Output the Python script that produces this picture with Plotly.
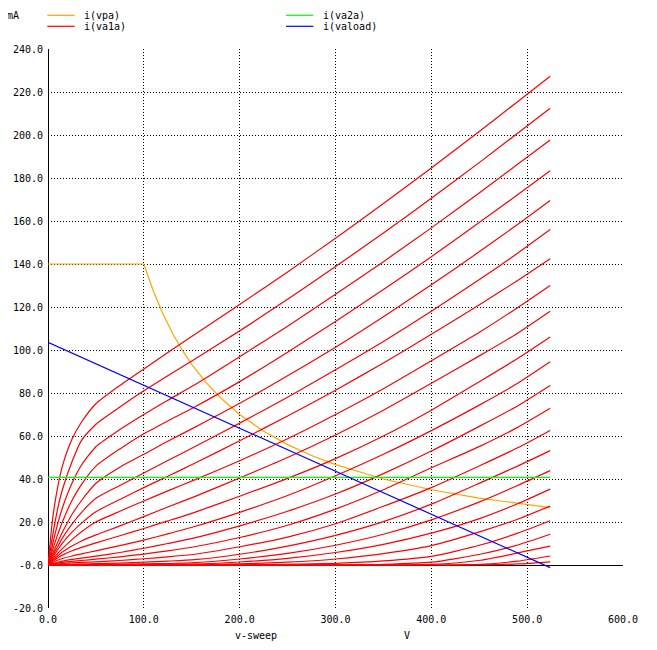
import plotly.graph_objects as go

# ---------------- data ----------------
V_SWEEP = [0, 5, 10, 15, 25, 35, 50, 75, 100, 125, 153, 200, 250, 300, 350, 400, 451, 490, 524]

# i(va1a): plate-current family, mA, one list per grid step (top to bottom)
IA1_0 = [0, 22, 36, 46, 58.5, 66.5, 75, 83.5, 91.2, 98.8, 107.2, 121.2, 136.3, 152, 168.1, 184.7, 202, 215.5, 227.3]
IA1_1 = [0, 14, 26, 35, 48, 58, 65.5, 73.5, 81, 88, 95.7, 108.9, 123.6, 138.8, 154.4, 170.6, 187.5, 200.8, 212.4]
IA1_2 = [0, 10, 19, 26.5, 38, 46.5, 55, 63, 70, 76.6, 83.8, 96.9, 111.1, 125.9, 141.1, 156.8, 173.4, 186.4, 197.7]
IA1_3 = [0, 7.3, 14, 20, 30, 37.5, 46, 54, 61, 67, 73.5, 85.3, 99, 113.3, 128.1, 143.4, 159.6, 172.2, 183.4]
IA1_4 = [0, 5.5, 10.5, 15.2, 23.5, 30, 38, 45.5, 51.5, 57.6, 64, 75.2, 88, 101.3, 115.5, 130.3, 146, 158.4, 169.5]
IA1_5 = [0, 4.5, 8.5, 12.5, 19, 24.5, 31, 37, 42.8, 48.6, 55, 66, 78, 90.8, 104, 118, 133, 145, 156]
IA1_6 = [0, 3.6, 7, 10.2, 15.3, 19.5, 24.8, 30.5, 36, 41.3, 47.3, 57.8, 69.3, 81.3, 94, 107.3, 121.3, 132.3, 142.4]
IA1_7 = [0, 2.8, 5.3, 7.6, 11.8, 15.5, 20, 25, 29.8, 34.5, 39.6, 48.5, 58.7, 70, 82, 95, 108.5, 119.7, 130]
IA1_8 = [0, 2.2, 4.2, 6, 8.8, 11.2, 14, 18.2, 22.5, 27, 31.8, 40.5, 50, 60.5, 72, 84.5, 97.5, 107.8, 118]
IA1_9 = [0, 1.8, 3.3, 4.6, 6.6, 8.2, 10.3, 13.6, 17, 20.5, 24.5, 32, 40.3, 49.5, 60, 72, 85.5, 96, 106]
IA1_10 = [0, 1.2, 2.2, 3, 4.2, 5.2, 6.6, 9, 11.6, 14.5, 17.9, 24.5, 32.3, 41.5, 51.5, 62.5, 74.6, 84.5, 94.5]
IA1_11 = [0, 0.7, 1.3, 1.8, 2.6, 3.2, 4.1, 5.8, 7.8, 10, 12.6, 18.2, 25, 33, 42.5, 53, 64.7, 74, 83.5]
IA1_12 = [0, 0.45, 0.85, 1.2, 1.7, 2.1, 2.7, 3.8, 5.1, 6.6, 8.5, 12.8, 18.5, 26, 35, 45.2, 55.3, 64, 72.9]
IA1_13 = [0, 0.25, 0.5, 0.7, 1, 1.2, 1.5, 2.1, 2.9, 3.8, 5, 8.5, 13, 19.2, 27.3, 36, 46.3, 54.5, 62.6]
IA1_14 = [0, 0.1, 0.18, 0.25, 0.35, 0.45, 0.6, 0.9, 1.3, 1.8, 2.5, 5, 8.8, 13.8, 20.2, 28.3, 38.2, 46, 53.2]
IA1_15 = [0, 0, 0.05, 0.08, 0.12, 0.17, 0.25, 0.35, 0.5, 0.7, 1.1, 2.8, 5.4, 9.2, 14.3, 21, 29.5, 37, 43.9]
IA1_16 = [0, 0, 0, 0, 0, 0.03, 0.06, 0.1, 0.15, 0.25, 0.45, 1.4, 3.1, 5.8, 9.6, 14.8, 21.7, 28.5, 35.3]
IA1_17 = [0, 0, 0, 0, 0, 0, 0, 0, 0, 0, 0.1, 0.5, 1.3, 2.8, 5.3, 9, 15.5, 21.3, 27.4]
IA1_18 = [0, 0, 0, 0, 0, 0, 0, 0, 0, 0, 0, 0.1, 0.3, 0.8, 1.9, 4, 9.3, 14.8, 20.6]
IA1_19 = [0, 0, 0, 0, 0, 0, 0, 0, 0, 0, 0, 0, 0, 0.05, 0.3, 1.3, 5, 9.3, 14.3]
IA1_20 = [0, 0, 0, 0, 0, 0, 0, 0, 0, 0, 0, 0, 0, 0, 0, 0.25, 2.2, 5.6, 8.8]
IA1_21 = [0, 0, 0, 0, 0, 0, 0, 0, 0, 0, 0, 0, 0, 0, 0, 0, 0.3, 1.8, 4.2]
IA1_22 = [0, 0, 0, 0, 0, 0, 0, 0, 0, 0, 0, 0, 0, 0, 0, 0, 0.05, 0.5, 1.5]
IA1_CURVES = [IA1_0, IA1_1, IA1_2, IA1_3, IA1_4, IA1_5, IA1_6, IA1_7, IA1_8,
              IA1_9, IA1_10, IA1_11, IA1_12, IA1_13, IA1_14, IA1_15, IA1_16,
              IA1_17, IA1_18, IA1_19, IA1_20, IA1_21, IA1_22]

# i(vpa): power-limit curve
V_PA = [0, 100, 110, 120, 130, 140, 150, 165, 180, 200, 225, 250, 275, 300, 350, 400, 450, 500, 524]
I_PA = [140, 140, 127.3, 116.7, 107.7, 100, 93.3, 84.8, 77.8, 70, 62.2, 56, 50.9, 46.7, 40, 35, 31.1, 28, 26.7]

# i(va2a)
V_A2 = [0, 524]
I_A2 = [40.8, 40.8]

# i(vaload): load line
V_LOAD = [0, 524]
I_LOAD = [103.6, -1.2]

X_TICKS = [0, 100, 200, 300, 400, 500, 600]
X_TICK_TEXT = ["0.0", "100.0", "200.0", "300.0", "400.0", "500.0", "600.0"]
Y_TICKS = [-20, 0, 20, 40, 60, 80, 100, 120, 140, 160, 180, 200, 220, 240]
Y_TICK_TEXT = ["-20.0", "-0.0", "20.0", "40.0", "60.0", "80.0", "100.0", "120.0",
               "140.0", "160.0", "180.0", "200.0", "220.0", "240.0"]

LEGEND_NAMES = ["i(vpa)", "i(va1a)", "i(va2a)", "i(vaload)"]
COLORS = ["#ffa500", "#ff0000", "#00ff00", "#0000ff"]

# ---------------- figure ----------------
FONT = "DejaVu Sans Mono"
PAGE_OFF = 8                      # default body margin of the html page
W, H = 657 - PAGE_OFF, 650 - PAGE_OFF
L, R, T, B = 48 - PAGE_OFF, 34, 49 - PAGE_OFF, 42
PLOT_L, PLOT_R, PLOT_T, PLOT_B = 48, 623, 49, 608   # page pixels


def px(xp):
    return (xp - PLOT_L) / (PLOT_R - PLOT_L)


def py(yp):
    return (PLOT_B - yp) / (PLOT_B - PLOT_T)


fig = go.Figure()
LW = 1.2
fig.add_trace(go.Scatter(x=V_PA, y=I_PA, mode="lines",
                         line=dict(color=COLORS[0], width=LW), hoverinfo="skip"))
for c in IA1_CURVES:
    fig.add_trace(go.Scatter(x=V_SWEEP, y=c, mode="lines",
                             line=dict(color=COLORS[1], width=LW, shape="spline", smoothing=0.6),
                             hoverinfo="skip"))
fig.add_trace(go.Scatter(x=V_A2, y=I_A2, mode="lines",
                         line=dict(color=COLORS[2], width=LW), hoverinfo="skip"))
fig.add_trace(go.Scatter(x=V_LOAD, y=I_LOAD, mode="lines",
                         line=dict(color=COLORS[3], width=LW), hoverinfo="skip"))

axis_common = dict(showgrid=True, gridcolor="black", gridwidth=1, griddash="1px,2px",
                   zeroline=True, zerolinecolor="black", zerolinewidth=1,
                   showline=False, ticks="", automargin=False,
                   tickfont=dict(family=FONT, size=10, color="black"))
fig.update_xaxes(range=[0, 600], tickvals=X_TICKS, ticktext=X_TICK_TEXT,
                 ticklabelstandoff=4, **axis_common)
fig.update_yaxes(range=[-20, 240], tickvals=Y_TICKS, ticktext=Y_TICK_TEXT,
                 ticklabelstandoff=4, **axis_common)

shapes = []
annotations = []
# legend (drawn as in the original, above the plot)
leg = [(47.3, 74.7, 15.3, 82, 0), (47.3, 74.7, 26.3, 82, 1),
       (286, 313.3, 15.3, 320.7, 2), (286, 313.3, 26.3, 320.7, 3)]
for x0, x1, yy, xt, i in leg:
    shapes.append(dict(type="line", xref="paper", yref="paper",
                       x0=px(x0), x1=px(x1), y0=py(yy), y1=py(yy),
                       line=dict(color=COLORS[i], width=1.2)))
    annotations.append(dict(text=LEGEND_NAMES[i], xref="paper", yref="paper",
                            x=px(xt), y=py(yy + 0.5), xanchor="left", yanchor="middle",
                            showarrow=False, font=dict(family=FONT, size=10, color="black")))
annotations.append(dict(text="mA", xref="paper", yref="paper", x=px(4.7), y=py(16),
                        xanchor="left", yanchor="middle", showarrow=False,
                        font=dict(family=FONT, size=10, color="black")))
annotations.append(dict(text="v-sweep", xref="paper", yref="paper", x=px(233), y=py(635),
                        xanchor="left", yanchor="middle", showarrow=False,
                        font=dict(family=FONT, size=10, color="black")))
annotations.append(dict(text="V", xref="paper", yref="paper", x=px(402), y=py(635),
                        xanchor="left", yanchor="middle", showarrow=False,
                        font=dict(family=FONT, size=10, color="black")))

fig.update_layout(width=W, height=H, margin=dict(l=L, r=R, t=T, b=B),
                  paper_bgcolor="white", plot_bgcolor="white", showlegend=False,
                  shapes=shapes, annotations=annotations)

fig.write_html("out.html")
